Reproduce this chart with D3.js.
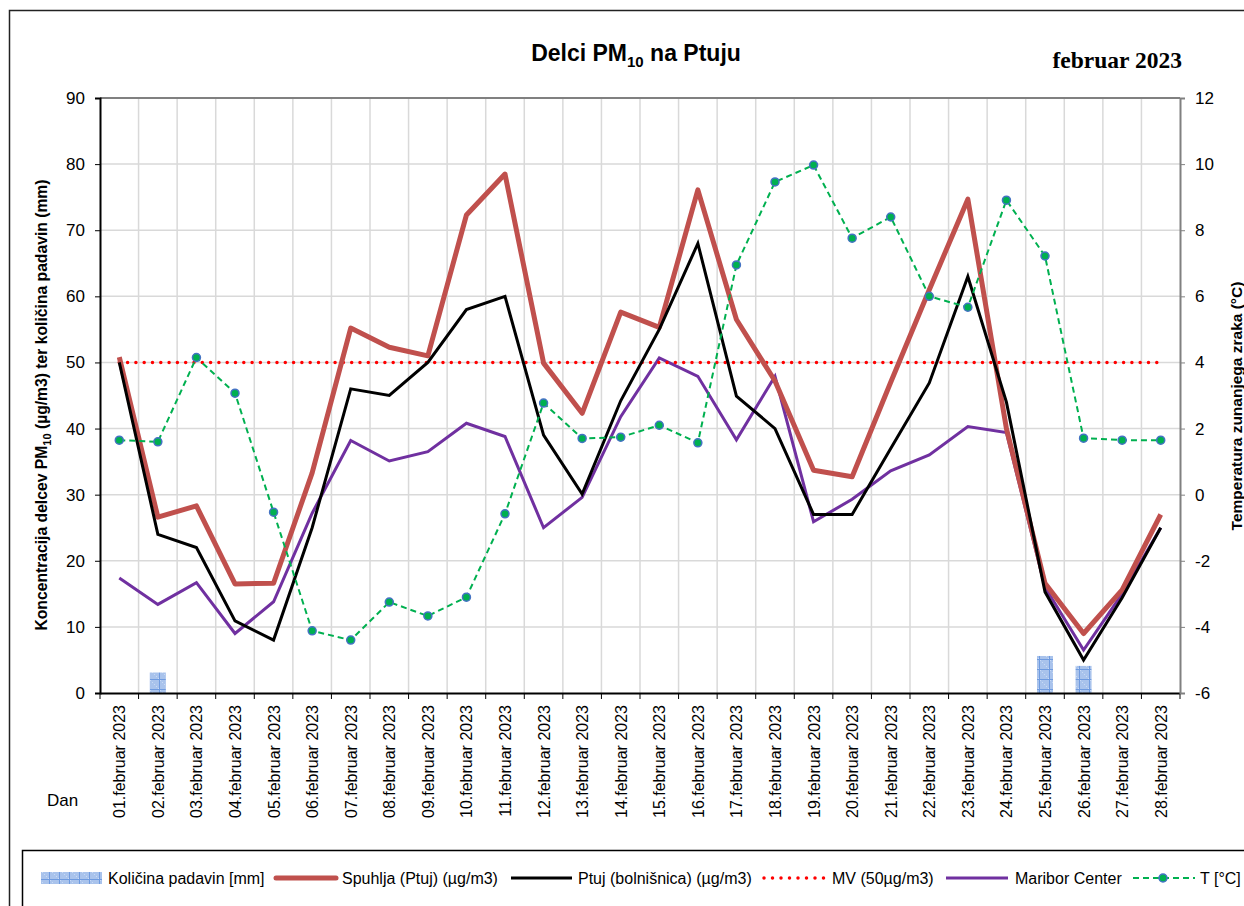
<!DOCTYPE html>
<html>
<head>
<meta charset="utf-8">
<script src="https://cdn.jsdelivr.net/npm/d3@7"></script>
<style>
  body { margin: 0; background: #fff; }
  svg { display: block; }
  text { font-family: "Liberation Sans", Arial, sans-serif; }
</style>
</head>
<body>
<div id="chart"></div>
<script>
var width = 1244, height = 906;

// categories
var days = [];
for (var i = 1; i <= 28; i++) days.push((i < 10 ? "0" + i : "" + i) + ".februar 2023");

// series
var padavine = [0, 3.1, 0, 0, 0, 0, 0, 0, 0, 0, 0, 0, 0, 0, 0, 0, 0, 0, 0, 0, 0, 0, 0, 0, 5.6, 4.1, 0, 0];
var spuhlja = [50.8, 26.6, 28.3, 16.5, 16.6, 33.3, 55.2, 52.3, 51, 72.3, 78.5, 49.9, 42.3, 57.6, 55.3, 76.1, 56.5, 47.2, 33.7, 32.7, 47, 61, 74.7, 40, 16.6, 9, 15.6, 27];
var bolnisnica = [50, 24, 22, 10.9, 8, 25, 46, 45, 50, 58, 60, 39, 30.1, 44.2, 55, 68, 44.9, 40, 27, 27, 37, 46.9, 63, 44, 15.3, 5, 14.4, 25];
var mejna = [50, 50, 50, 50, 50, 50, 50, 50, 50, 50, 50, 50, 50, 50, 50, 50, 50, 50, 50, 50, 50, 50, 50, 50, 50, 50, 50, 50];
var maribor = [17.4, 13.4, 16.7, 9, 13.8, 27.2, 38.2, 35.1, 36.5, 40.8, 38.8, 25, 29.6, 41.8, 50.7, 47.9, 38.3, 47.9, 25.9, 29.3, 33.6, 36, 40.3, 39.4, 16, 6.5, 15, 25];
var temp = [1.65, 1.6, 4.15, 3.07, -0.53, -4.12, -4.4, -3.25, -3.67, -3.1, -0.58, 2.77, 1.7, 1.74, 2.1, 1.57, 6.95, 9.46, 9.97, 7.76, 8.4, 6.0, 5.67, 8.91, 7.22, 1.71, 1.65, 1.65];

var leftTicks = [0, 10, 20, 30, 40, 50, 60, 70, 80, 90];
var rightTicks = [-6, -4, -2, 0, 2, 4, 6, 8, 10, 12];

var m = {left: 100, right: 1180, top: 98, bottom: 693};

var svg = d3.select("#chart").append("svg")
  .attr("width", width)
  .attr("height", height);

var defs = svg.append("defs");
var pat = defs.append("pattern")
  .attr("id", "rain")
  .attr("patternUnits", "userSpaceOnUse")
  .attr("width", 10).attr("height", 10);
pat.append("rect").attr("width", 10).attr("height", 10).attr("fill", "#a9c3ec");
pat.append("path").attr("d", "M0,0h1v1h-1zM2,2h1v1h-1zM4,4h1v1h-1zM6,6h1v1h-1zM8,8h1v1h-1z").attr("fill", "#c9dbf5");
pat.append("path").attr("d", "M0,9.5H10M9.5,0V10").attr("stroke", "#6f9be0").attr("stroke-width", 1);

// outer chart border
svg.append("rect")
  .attr("x", 9.5).attr("y", 10.5)
  .attr("width", 1400).attr("height", 1000)
  .attr("fill", "none").attr("stroke", "#222").attr("stroke-width", 1.5);

var x = d3.scaleBand().domain(days).range([m.left, m.right]);
var y = d3.scaleLinear().domain([0, 90]).range([m.bottom, m.top]);
var y2 = d3.scaleLinear().domain([-6, 12]).range([m.bottom, m.top]);
var cx = function(d, i) { return x(days[i]) + x.bandwidth() / 2; };

// grid
var grid = svg.append("g");
grid.selectAll(".hg").data(leftTicks.slice(1, -1)).enter().append("line")
  .attr("x1", m.left).attr("x2", m.right)
  .attr("y1", d => y(d)).attr("y2", d => y(d))
  .attr("stroke", "#d9d9d9").attr("stroke-width", 1.5);
grid.selectAll(".vg").data(days.slice(1)).enter().append("line")
  .attr("x1", d => x(d)).attr("x2", d => x(d))
  .attr("y1", m.top).attr("y2", m.bottom)
  .attr("stroke", "#d9d9d9").attr("stroke-width", 1.5);
svg.append("line")
  .attr("x1", m.left).attr("x2", m.right)
  .attr("y1", m.top).attr("y2", m.top)
  .attr("stroke", "#808080").attr("stroke-width", 2);

// precipitation bars
svg.append("g").selectAll("rect").data(padavine).enter().append("rect")
  .attr("x", (d, i) => cx(d, i) - 8)
  .attr("width", 16)
  .attr("y", d => y(d))
  .attr("height", d => y(0) - y(d))
  .attr("fill", "url(#rain)");

// axes
var ax = svg.append("g").attr("transform", "translate(0," + m.bottom + ")")
  .call(d3.axisBottom(x).tickSize(0).tickFormat(""));
ax.select(".domain").attr("stroke", "#000").attr("stroke-width", 2);
ax.selectAll(".bt").data(days.concat(["end"])).enter().append("line")
  .attr("x1", (d, i) => m.left + i * x.bandwidth())
  .attr("x2", (d, i) => m.left + i * x.bandwidth())
  .attr("y1", 0).attr("y2", 6)
  .attr("stroke", "#000").attr("stroke-width", 1);
ax.selectAll(".lbl").data(days).enter().append("text")
  .attr("transform", d => "translate(" + (x(d) + x.bandwidth() / 2 + 6) + ",12) rotate(-90)")
  .attr("text-anchor", "end")
  .attr("font-size", 16)
  .attr("fill", "#000")
  .text(d => d);

var ayl = svg.append("g").attr("transform", "translate(" + m.left + ",0)")
  .call(d3.axisLeft(y).tickValues(leftTicks).tickSize(5).tickPadding(10).tickFormat(d => String(d)));
ayl.select(".domain").attr("stroke", "#000").attr("stroke-width", 2);
ayl.selectAll("text").attr("font-size", 17).attr("fill", "#000")
  .style("font-family", "'Liberation Sans',Arial,sans-serif");
ayl.selectAll(".tick line").attr("stroke", "#000");

var ayr = svg.append("g").attr("transform", "translate(" + m.right + ",0)")
  .call(d3.axisRight(y2).tickValues(rightTicks).tickSize(5).tickPadding(10).tickFormat(d => String(d)));
ayr.select(".domain").attr("stroke", "#808080").attr("stroke-width", 2);
ayr.selectAll("text").attr("font-size", 17).attr("fill", "#000")
  .style("font-family", "'Liberation Sans',Arial,sans-serif");
ayr.selectAll(".tick line").attr("stroke", "#808080");

// lines
var line = d3.line().x((d, i) => cx(d, i)).y(d => y(d));
var lineT = d3.line().x((d, i) => cx(d, i)).y(d => y2(d));

svg.append("path").datum(maribor).attr("d", line)
  .attr("fill", "none").attr("stroke", "#7030a0").attr("stroke-width", 3);
svg.append("path").datum(mejna).attr("d", line)
  .attr("fill", "none").attr("stroke", "#ff0000").attr("stroke-width", 3.5)
  .attr("stroke-linecap", "round").attr("stroke-dasharray", "0,8.3");
svg.append("path").datum(spuhlja).attr("d", line)
  .attr("fill", "none").attr("stroke", "#c0504d").attr("stroke-width", 5)
  .attr("stroke-linejoin", "round");
svg.append("path").datum(bolnisnica).attr("d", line)
  .attr("fill", "none").attr("stroke", "#000").attr("stroke-width", 3);
svg.append("path").datum(temp).attr("d", lineT)
  .attr("fill", "none").attr("stroke", "#00b050").attr("stroke-width", 2)
  .attr("stroke-dasharray", "6,4");
svg.append("g").selectAll("circle").data(temp).enter().append("circle")
  .attr("cx", (d, i) => cx(d, i)).attr("cy", d => y2(d)).attr("r", 4)
  .attr("fill", "#00b050").attr("stroke", "#4472c4").attr("stroke-width", 1.5);

// titles
var title = svg.append("text").attr("x", 636).attr("y", 61)
  .attr("text-anchor", "middle").attr("font-size", 23).attr("font-weight", "bold");
title.append("tspan").text("Delci PM");
title.append("tspan").attr("font-size", 15).attr("dy", 6).text("10");
title.append("tspan").attr("dy", -6).text(" na Ptuju");

svg.append("text").attr("x", 1182).attr("y", 68)
  .attr("text-anchor", "end").attr("font-size", 23.5).attr("font-weight", "bold")
  .style("font-family", "'Liberation Serif','Times New Roman',serif")
  .text("februar 2023");

var yl = svg.append("text")
  .attr("transform", "translate(47,405) rotate(-90)")
  .attr("text-anchor", "middle").attr("font-size", 15.7).attr("font-weight", "bold");
yl.append("tspan").text("Koncentracija delcev PM");
yl.append("tspan").attr("font-size", 11).attr("dy", 4).text("10");
yl.append("tspan").attr("dy", -4).text(" (µg/m3) ter količina padavin (mm)");

svg.append("text")
  .attr("transform", "translate(1242,406) rotate(-90)")
  .attr("text-anchor", "middle").attr("font-size", 15.5).attr("font-weight", "bold")
  .text("Temperatura zunanjega zraka (°C)");

svg.append("text").attr("x", 47).attr("y", 806).attr("font-size", 17).text("Dan");

// legend
var lg = svg.append("g");
lg.append("rect").attr("x", 22.5).attr("y", 850.5).attr("width", 1300).attr("height", 100)
  .attr("fill", "#fff").attr("stroke", "#000").attr("stroke-width", 1.5);
var ly = 878;
lg.append("rect").attr("x", 41).attr("y", ly - 6).attr("width", 61).attr("height", 12).attr("fill", "url(#rain)");
lg.append("line").attr("x1", 276).attr("x2", 336).attr("y1", ly).attr("y2", ly)
  .attr("stroke", "#c0504d").attr("stroke-width", 5).attr("stroke-linecap", "round");
lg.append("line").attr("x1", 511).attr("x2", 572).attr("y1", ly).attr("y2", ly)
  .attr("stroke", "#000").attr("stroke-width", 3);
lg.append("line").attr("x1", 764).attr("x2", 825).attr("y1", ly).attr("y2", ly)
  .attr("stroke", "#ff0000").attr("stroke-width", 3.5).attr("stroke-linecap", "round").attr("stroke-dasharray", "0,8.5");
lg.append("line").attr("x1", 946).attr("x2", 1008).attr("y1", ly).attr("y2", ly)
  .attr("stroke", "#7030a0").attr("stroke-width", 3);
lg.append("line").attr("x1", 1133).attr("x2", 1195).attr("y1", ly).attr("y2", ly)
  .attr("stroke", "#00b050").attr("stroke-width", 2).attr("stroke-dasharray", "6,4");
lg.append("circle").attr("cx", 1163).attr("cy", ly).attr("r", 4)
  .attr("fill", "#00b050").attr("stroke", "#4472c4").attr("stroke-width", 1.5);

var legendTexts = [
  {x: 108, t: "Količina padavin [mm]"},
  {x: 342, t: "Spuhlja (Ptuj) (µg/m3)"},
  {x: 578, t: "Ptuj (bolnišnica) (µg/m3)"},
  {x: 832, t: "MV (50µg/m3)"},
  {x: 1015, t: "Maribor Center"},
  {x: 1200, t: "T [°C]"}
];
lg.selectAll(".lt").data(legendTexts).enter().append("text")
  .attr("x", d => d.x).attr("y", ly + 6).attr("font-size", 16).text(d => d.t);
</script>
</body>
</html>
